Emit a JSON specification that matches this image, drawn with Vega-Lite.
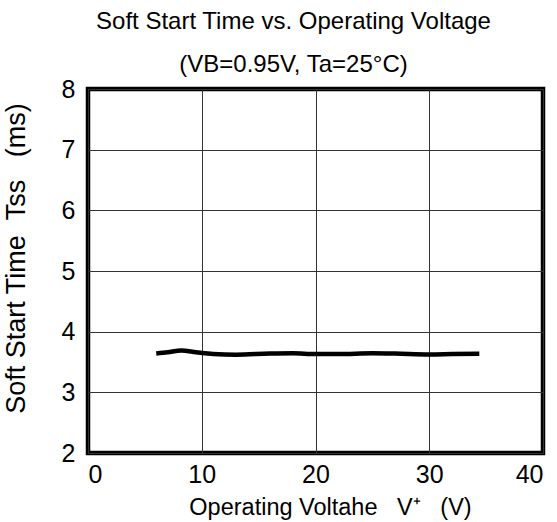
{
  "$schema": "https://vega.github.io/schema/vega-lite/v6.json",
  "width": 455,
  "height": 364,
  "autosize": "none",
  "padding": {"left": 88, "top": 89, "right": 14, "bottom": 69},
  "background": "white",
  "title": {
    "text": "Soft Start Time vs. Operating Voltage",
    "subtitle": "(VB=0.95V, Ta=25°C)",
    "anchor": "middle",
    "frame": "group",
    "dx": -22,
    "offset": 0,
    "font": "Liberation Sans",
    "fontSize": 24,
    "fontWeight": "normal",
    "color": "black",
    "subtitleFont": "Liberation Sans",
    "subtitleFontSize": 24,
    "subtitleColor": "black",
    "subtitlePadding": 19
  },
  "config": {
    "view": {"stroke": "black", "strokeWidth": 4.5},
    "axis": {
      "labelFont": "Liberation Sans",
      "labelFontSize": 25,
      "labelColor": "black",
      "titleFont": "Liberation Sans",
      "titleFontWeight": "normal",
      "titleColor": "black",
      "domain": false,
      "ticks": false,
      "gridColor": "#333333",
      "gridWidth": 1,
      "gridOpacity": 1
    }
  },
  "data": {
    "values": [
      {"v": 6.0, "t": 3.64},
      {"v": 7.0, "t": 3.66},
      {"v": 8.2, "t": 3.69},
      {"v": 9.5, "t": 3.66},
      {"v": 11.0, "t": 3.63},
      {"v": 13.0, "t": 3.62},
      {"v": 16.0, "t": 3.64},
      {"v": 18.0, "t": 3.645},
      {"v": 20.0, "t": 3.63},
      {"v": 22.0, "t": 3.63},
      {"v": 25.0, "t": 3.645},
      {"v": 27.0, "t": 3.64},
      {"v": 30.0, "t": 3.625},
      {"v": 32.0, "t": 3.63},
      {"v": 34.4, "t": 3.635}
    ]
  },
  "mark": {"type": "line", "color": "black", "strokeWidth": 4.5, "interpolate": "monotone"},
  "encoding": {
    "x": {
      "field": "v",
      "type": "quantitative",
      "scale": {"domain": [0, 40], "nice": false, "zero": false},
      "axis": {"values": [0, 10, 20, 30, 40], "title": "Operating Voltahe\u00a0\u00a0\u00a0V⁺\u00a0\u00a0\u00a0(V)", "titleFontSize": 23.5, "labelPadding": 9, "titlePadding": 8, "titleX": 242}
    },
    "y": {
      "field": "t",
      "type": "quantitative",
      "scale": {"domain": [2, 8], "nice": false, "zero": false},
      "axis": {"values": [2, 3, 4, 5, 6, 7, 8], "title": "Soft Start Time\u00a0\u00a0Tss\u00a0\u00a0\u00a0(ms)", "titleFontSize": 27, "labelPadding": 13, "titlePadding": 31, "titleY": 169}
    }
  }
}
